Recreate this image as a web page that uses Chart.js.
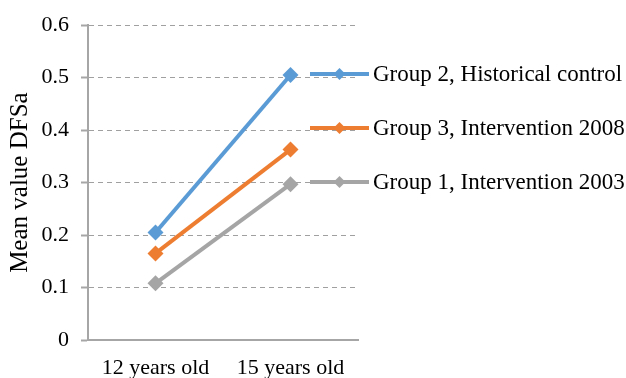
<!DOCTYPE html>
<html>
<head>
<meta charset="utf-8">
<script src="https://cdn.jsdelivr.net/npm/chart.js@4"></script>
<style>
  html, body { margin: 0; padding: 0; background: #fff; }
  #wrap { width: 626px; height: 378px; }
</style>
</head>
<body>
<div id="wrap"><canvas id="c" width="626" height="378"></canvas></div>
<script>
// Mean DFSa by age for each study group
const categories = ['12 years old', '15 years old'];
const seriesLabels = ['Group 2, Historical control', 'Group 3, Intervention 2008', 'Group 1, Intervention 2003'];
const group2Values = [0.205, 0.505];
const group3Values = [0.165, 0.363];
const group1Values = [0.108, 0.297];
const seriesColors = ['#5B9BD5', '#ED7D31', '#A5A5A5'];
const yTicks = [0, 0.1, 0.2, 0.3, 0.4, 0.5, 0.6];

const FONT = '"Liberation Serif", "Times New Roman", serif';
const AXIS_GREY = '#a6a6a6';

const seriesValues = [group2Values, group3Values, group1Values];

// Legend drawn as a stacked list beside the plot, each entry a line with a diamond
const sideLegend = {
  id: 'sideLegend',
  afterDraw(chart) {
    const ctx = chart.ctx;
    const lineStart = 310, lineEnd = 369, textX = 373;
    const firstY = 74, step = 54;
    ctx.save();
    chart.data.datasets.forEach((ds, i) => {
      const y = firstY + i * step;
      ctx.strokeStyle = ds.borderColor;
      ctx.lineWidth = 4;
      ctx.lineCap = 'butt';
      ctx.beginPath();
      ctx.moveTo(lineStart, y);
      ctx.lineTo(lineEnd, y);
      ctx.stroke();
      const cx = (lineStart + lineEnd) / 2, r = 6;
      ctx.fillStyle = ds.backgroundColor;
      ctx.beginPath();
      ctx.moveTo(cx, y - r);
      ctx.lineTo(cx + r, y);
      ctx.lineTo(cx, y + r);
      ctx.lineTo(cx - r, y);
      ctx.closePath();
      ctx.fill();
      ctx.fillStyle = '#000';
      ctx.font = '23px ' + FONT;
      ctx.textBaseline = 'middle';
      ctx.textAlign = 'left';
      ctx.fillText(ds.label, textX, y + 1);
    });
    ctx.restore();
  }
};

new Chart(document.getElementById('c'), {
  type: 'line',
  data: {
    labels: categories,
    datasets: seriesLabels.map((label, i) => ({
      label: label,
      data: seriesValues[i],
      borderColor: seriesColors[i],
      backgroundColor: seriesColors[i],
      borderWidth: 4,
      pointStyle: 'rectRot',
      pointRadius: 8,
      pointBorderWidth: 0,
      tension: 0
    }))
  },
  options: {
    responsive: false,
    animation: false,
    events: [],
    layout: { padding: { left: 0, right: 268, top: 9, bottom: 0 } },
    plugins: {
      legend: { display: false },
      tooltip: { enabled: false }
    },
    scales: {
      x: {
        offset: true,
        grid: { display: false, drawTicks: false },
        border: { display: true, color: AXIS_GREY, width: 2 },
        ticks: {
          color: '#000',
          font: { family: FONT, size: 22 },
          padding: 15,
          maxRotation: 0
        },
        afterFit(scale) { scale.height = 38; }
      },
      y: {
        min: 0,
        max: 0.6,
        afterBuildTicks(scale) { scale.ticks = yTicks.map(v => ({ value: v })); },
        grid: {
          color: '#a0a0a0',
          lineWidth: 1,
          tickLength: 7,
          tickColor: AXIS_GREY,
          tickWidth: 2
        },
        border: { display: true, color: AXIS_GREY, width: 2, dash: [5, 4] },
        ticks: {
          color: '#000',
          font: { family: FONT, size: 22 },
          padding: 12,
          callback: v => String(v)
        },
        title: {
          display: true,
          text: 'Mean value DFSa',
          color: '#000',
          font: { family: FONT, size: 25 },
          padding: { top: 5, bottom: 0 }
        },
        afterFit(scale) { scale.width = 88; }
      }
    }
  },
  plugins: [sideLegend]
});
</script>
</body>
</html>
